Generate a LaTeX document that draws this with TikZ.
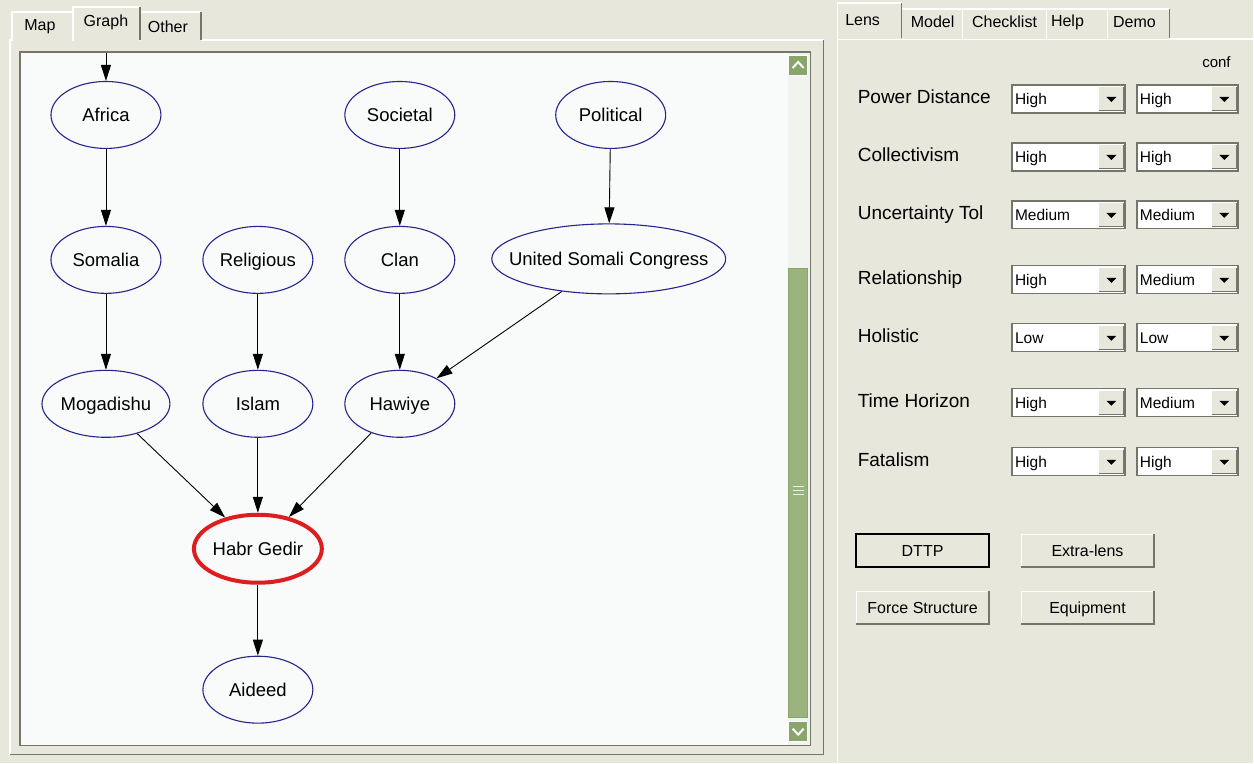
\documentclass[tikz,border=0pt]{standalone}
\usepackage{fontspec}
\setmainfont{Liberation Sans}
\usetikzlibrary{positioning,calc,arrows.meta,shapes.geometric}
\definecolor{panelbg}{HTML}{E8E7DC}
\definecolor{canvasbg}{HTML}{F8FBF9}
\definecolor{nodeblue}{HTML}{25258C}
\definecolor{hotred}{HTML}{DE1E1E}
\definecolor{barpale}{HTML}{F1F3EE}
\definecolor{bargreen}{HTML}{9BB37F}
\definecolor{btngreen}{HTML}{8AA56C}
\definecolor{darkedge}{HTML}{75756C}
\tikzset{
  gnode/.style={ellipse,draw=nodeblue,line width=1.1pt,fill=canvasbg,inner sep=0,
                text height=17pt,text depth=4pt,
                minimum width=110pt,minimum height=67pt,font=\fontsize{18.5}{20}\selectfont},
  % the selected node has a thick red rim
  hot/.style={gnode,draw=hotred,line width=4pt,minimum width=126pt,minimum height=68pt},
  link/.style={-{Triangle[length=16pt,width=10pt]},line width=0.9pt},
  tabtext/.style={font=\fontsize{16}{18}\selectfont,inner sep=0},
  lab/.style={anchor=base west,font=\fontsize{19}{21}\selectfont,inner sep=0},
  field/.style={rectangle,draw=darkedge,line width=1.2pt,fill=white,minimum height=28pt,
                text width=#1,inner xsep=3pt,inner ysep=0,align=left,text height=14.5pt,text depth=3.5pt,
                font=\fontsize{15.5}{17}\selectfont},
  dropbtn/.style={rectangle,fill=panelbg,inner sep=0,minimum width=25pt,minimum height=23pt},
  pushbtn/.style={rectangle,fill=panelbg,draw=white,line width=1pt,minimum width=132pt,inner ysep=0,
                  minimum height=32pt,text height=15pt,text depth=3.5pt,font=\fontsize{16}{18}\selectfont},
}
\begin{document}
\begin{tikzpicture}[x=1pt,y=-1pt]
  \fill[panelbg] (0,0) rectangle (1254,763);
  % left tab pane
  \draw[white,line width=1.2pt] (10,755) -- (10,40) -- (824,40);
  \draw[darkedge,line width=1.2pt] (824,40) -- (824,755) -- (10,755);
  \foreach \xa/\xb/\ya/\txt/\tx/\ty [count=\i] in {12/73/12/Map/40/27, 140/201/12/Other/168/27, 73/140/7/Graph/106/22}{
    \fill[panelbg] (\xa,\ya) rectangle (\xb,41);
    \draw[white,line width=1.2pt] (\xa,41) -- (\xa,\ya) -- (\xb,\ya);
    \draw[darkedge,line width=1.2pt] (\xb,\ya) -- (\xb,40);
    \node[tabtext] (ltab\i) at (\tx,\ty) {\txt};
  }
  % graph canvas and scroll bar
  \fill[canvasbg] (20,52) rectangle (811,746);
  \fill[barpale] (788,53) rectangle (810,745);
  \draw[darkedge,line width=1.2pt] (20,52) rectangle (811,746);
  \fill[bargreen,draw=btngreen] (789,268) rectangle (808,718);
  \foreach \yy in {487,491,495}{\draw[white!80!bargreen,line width=0.8pt] (793,\yy) -- (804,\yy);}
  \fill[btngreen,draw=white] (789,55) rectangle (808,75);
  \fill[btngreen,draw=white] (789,722) rectangle (808,742);
  \draw[white,line width=2pt] (793,68) -- (798.5,62) -- (804,68);
  \draw[white,line width=2pt] (793,729) -- (798.5,735) -- (804,729);
  % graph
  \coordinate (top) at (106,53);
  \node[gnode] (africa) at (106,115) {Africa};
  \node[gnode] (societal) at (400,115) {Societal};
  \node[gnode] (political) at (611,115) {Political};
  \node[gnode] (somalia) at (106,260) {Somalia};
  \node[gnode] (religious) at (258,260) {Religious};
  \node[gnode] (clan) at (400,260) {Clan};
  \node[gnode,inner xsep=-17pt,minimum height=70pt] (usc) at (609,259) {United Somali Congress};
  \node[gnode,minimum width=126pt] (mogadishu) at (106,404) {Mogadishu};
  \node[gnode] (islam) at (258,404) {Islam};
  \node[gnode] (hawiye) at (400,404) {Hawiye};
  \node[hot] (habr) at (258,549) {Habr Gedir};
  \node[gnode] (aideed) at (258,690) {Aideed};
  \draw[link] (top) -- (africa);
  \draw[link] (africa) -- (somalia);
  \draw[link] (societal) -- (clan);
  \draw[link] (political) -- (usc);
  \draw[link] (somalia) -- (mogadishu);
  \draw[link] (religious) -- (islam);
  \draw[link] (clan) -- (hawiye);
  \draw[link] (usc) -- (hawiye);
  \draw[link] (mogadishu) -- (habr);
  \draw[link] (islam) -- (habr);
  \draw[link] (hawiye) -- (habr);
  \draw[link] (habr) -- (aideed);
  % right tab pane
  \draw[white,line width=1.2pt] (838,763) -- (838,39) -- (1254,39);
  \foreach \xa/\xb/\ya/\txt/\tx/\ty [count=\i] in {902/963/9/Model/933/22, 963/1047/9/Checklist/1005/22,
      1047/1108/9/Help/1068/22, 1108/1170/9/Demo/1135/22, 838/902/3/Lens/863/20}{
    \fill[panelbg] (\xa,\ya) rectangle (\xb,39);
    \draw[white,line width=1.2pt] (\xa,39) -- (\xa,\ya) -- (\xb,\ya);
    \draw[darkedge,line width=1.2pt] (\xb,\ya) -- (\xb,38);
    \node[tabtext] (rtab\i) at (\tx,\ty) {\txt};
  }
  \node[tabtext,font=\fontsize{15}{17}\selectfont] (conf) at (1217,62) {conf};
  \foreach \name/\y/\va/\vb [count=\i] in {Power Distance/99/High/High, Collectivism/157/High/High,
      Uncertainty Tol/215/Medium/Medium, Relationship/280/High/Medium, Holistic/338/Low/Low,
      Time Horizon/403/High/Medium, Fatalism/462/High/High}{
    \node[lab] (lab\i) at (858,{\y+5}) {\name};
    \node[field=107pt] (fa\i) at (1069,\y) {\va};
    \node[field=95pt] (fb\i) at (1188,\y) {\vb};
    \node[dropbtn,anchor=east] (ba\i) at ($(fa\i.east)+(-1.5,0)$) {};
    \node[dropbtn,anchor=east] (bb\i) at ($(fb\i.east)+(-1.5,0)$) {};
    \foreach \b in {ba\i,bb\i}{
      \draw[darkedge,line width=1.2pt] (\b.north east) -- (\b.south east) -- (\b.south west);
      \fill ($(\b.center)+(-5,-2)$) -- ++(10,0) -- ++(-5,5) -- cycle;
    }
  }
  % push buttons
  \node[pushbtn] (dttp) at (923,551) {DTTP};
  \node[pushbtn] (extra) at (1088,551) {Extra-lens};
  \node[pushbtn] (force) at (923,608) {Force Structure};
  \node[pushbtn] (equip) at (1088,608) {Equipment};
  \foreach \b in {dttp,extra,force,equip}{
    \draw[darkedge,line width=1.5pt] (\b.north east) -- (\b.south east) -- (\b.south west);
  }
  \draw[black,line width=1.6pt] (dttp.north west) rectangle (dttp.south east);
\end{tikzpicture}
\end{document}
